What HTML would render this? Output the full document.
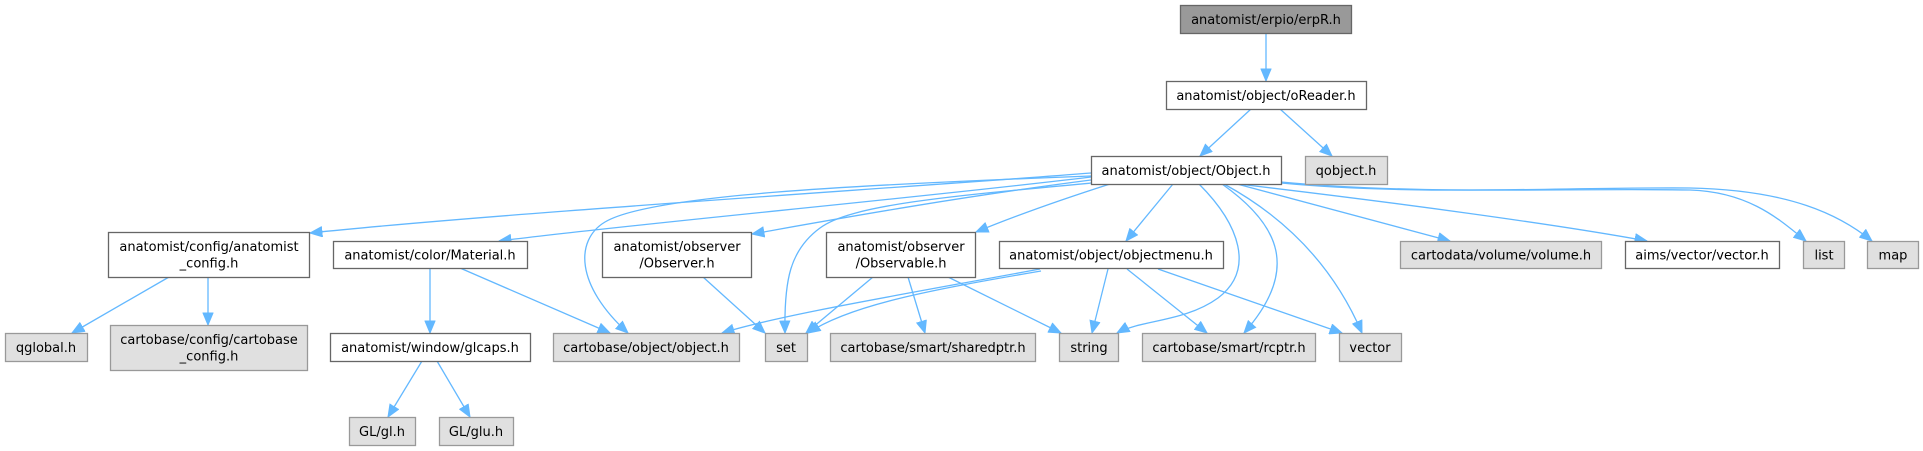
<!DOCTYPE html>
<html>
<head>
<meta charset="utf-8">
<style>
html,body{margin:0;padding:0;background:#fff;}
svg{display:block;}
text{font-family:"DejaVu Sans","Liberation Sans",sans-serif;font-size:13px;fill:#000;}
.w{fill:#fff;stroke:#666;stroke-width:1.3;}
.g{fill:#e0e0e0;stroke:#999;stroke-width:1.3;}
.r{fill:#999;stroke:#666;stroke-width:1.3;}
.e{fill:none;stroke:#63b8ff;stroke-width:1.3;marker-end:url(#a);}
</style>
</head>
<body>
<svg width="1923" height="451" viewBox="0 0 1923 451" xmlns="http://www.w3.org/2000/svg">
<defs>
<marker id="a" markerUnits="userSpaceOnUse" markerWidth="13" markerHeight="11" viewBox="0 0 13 11" refX="12.5" refY="5.5" orient="auto">
<path d="M0.5,0.5 L12.5,5.5 L0.5,10.5 z" fill="#63b8ff" stroke="#63b8ff" stroke-width="1"/>
</marker>
</defs>

<!-- edges -->
<path class="e" d="M1266,33 L1266,81"/>
<path class="e" d="M1251,109 L1200,156"/>
<path class="e" d="M1280,109 L1332,156"/>
<path class="e" d="M1091,173 C900,188 500,213 310,233"/>
<path class="e" d="M1091,177 C900,200 650,222 499,241"/>
<path class="e" d="M1091,176 C850,185 650,195 605,222 C575,240 575,285 628,333"/>
<path class="e" d="M1091,180 C950,198 820,222 752,234"/>
<path class="e" d="M1092,183 C950,196 850,205 820,228 C790,250 784,280 785,333"/>
<path class="e" d="M1110,184 C1060,200 1010,218 976,232"/>
<path class="e" d="M1173,184 L1126,241"/>
<path class="e" d="M1199,184 C1240,225 1255,270 1218,298 C1185,322 1140,320 1117,333"/>
<path class="e" d="M1222,184 C1280,225 1300,270 1244,333"/>
<path class="e" d="M1224,184 C1290,220 1335,270 1362,333"/>
<path class="e" d="M1237,184 L1450,241"/>
<path class="e" d="M1238,184 C1400,203 1560,225 1647,241"/>
<path class="e" d="M1281,182 C1420,195 1560,188 1690,190 C1750,192 1780,220 1806,241"/>
<path class="e" d="M1281,183 C1420,196 1560,187 1690,188 C1790,190 1840,215 1872,241"/>

<path class="e" d="M703,277 L765,333"/>
<path class="e" d="M873,277 L806,333"/>
<path class="e" d="M908,277 L925,333"/>
<path class="e" d="M948,277 L1061,333"/>
<path class="e" d="M1040,269 C900,295 780,315 722,333"/>
<path class="e" d="M1041,271 C930,290 850,305 808,333"/>
<path class="e" d="M1108,269 L1092,333"/>
<path class="e" d="M1127,269 L1207,333"/>
<path class="e" d="M1158,269 L1342,333"/>
<path class="e" d="M460,268 L610,333"/>
<path class="e" d="M430,268 L430,333"/>
<path class="e" d="M169,277 L72,333"/>
<path class="e" d="M208,277 L208,325"/>
<path class="e" d="M422,361 L388,417"/>
<path class="e" d="M437,361 L470,417"/>

<!-- nodes -->
<rect class="r" x="1180.5" y="5.5" width="171" height="28"/>
<text x="1266" y="24" text-anchor="middle">anatomist/erpio/erpR.h</text>

<rect class="w" x="1166.5" y="81.5" width="200" height="28"/>
<text x="1266" y="100" text-anchor="middle">anatomist/object/oReader.h</text>

<rect class="w" x="1091.5" y="156.5" width="190" height="28"/>
<text x="1186" y="175" text-anchor="middle">anatomist/object/Object.h</text>

<rect class="g" x="1305.5" y="156.5" width="82" height="28"/>
<text x="1346" y="175" text-anchor="middle">qobject.h</text>

<rect class="w" x="108.5" y="232.5" width="201" height="45"/>
<text x="209" y="251" text-anchor="middle">anatomist/config/anatomist</text>
<text x="209" y="267.5" text-anchor="middle">_config.h</text>

<rect class="w" x="333.5" y="241.5" width="194" height="27"/>
<text x="430" y="259.5" text-anchor="middle">anatomist/color/Material.h</text>

<rect class="w" x="602.5" y="232.5" width="149" height="45"/>
<text x="677" y="251" text-anchor="middle">anatomist/observer</text>
<text x="677" y="267.5" text-anchor="middle">/Observer.h</text>

<rect class="w" x="826.5" y="232.5" width="149" height="45"/>
<text x="901" y="251" text-anchor="middle">anatomist/observer</text>
<text x="901" y="267.5" text-anchor="middle">/Observable.h</text>

<rect class="w" x="999.5" y="241.5" width="224" height="27"/>
<text x="1111" y="259.5" text-anchor="middle">anatomist/object/objectmenu.h</text>

<rect class="g" x="1400.5" y="241.5" width="201" height="27"/>
<text x="1501" y="259.5" text-anchor="middle">cartodata/volume/volume.h</text>

<rect class="w" x="1625.5" y="241.5" width="154" height="27"/>
<text x="1702" y="259.5" text-anchor="middle">aims/vector/vector.h</text>

<rect class="g" x="1803.5" y="241.5" width="41" height="27"/>
<text x="1824" y="259.5" text-anchor="middle">list</text>

<rect class="g" x="1867.5" y="241.5" width="51" height="27"/>
<text x="1893" y="259.5" text-anchor="middle">map</text>

<rect class="g" x="5.5" y="333.5" width="82" height="28"/>
<text x="46" y="352" text-anchor="middle">qglobal.h</text>

<rect class="g" x="110.5" y="325.5" width="197" height="45"/>
<text x="209" y="344" text-anchor="middle">cartobase/config/cartobase</text>
<text x="209" y="360.5" text-anchor="middle">_config.h</text>

<rect class="w" x="330.5" y="333.5" width="200" height="28"/>
<text x="430" y="352" text-anchor="middle">anatomist/window/glcaps.h</text>

<rect class="g" x="553.5" y="333.5" width="186" height="28"/>
<text x="646" y="352" text-anchor="middle">cartobase/object/object.h</text>

<rect class="g" x="765.5" y="333.5" width="42" height="28"/>
<text x="786" y="352" text-anchor="middle">set</text>

<rect class="g" x="830.5" y="333.5" width="205" height="28"/>
<text x="933" y="352" text-anchor="middle">cartobase/smart/sharedptr.h</text>

<rect class="g" x="1059.5" y="333.5" width="59" height="28"/>
<text x="1089" y="352" text-anchor="middle">string</text>

<rect class="g" x="1142.5" y="333.5" width="173" height="28"/>
<text x="1229" y="352" text-anchor="middle">cartobase/smart/rcptr.h</text>

<rect class="g" x="1339.5" y="333.5" width="62" height="28"/>
<text x="1370" y="352" text-anchor="middle">vector</text>

<rect class="g" x="349.5" y="417.5" width="66" height="28"/>
<text x="382" y="436" text-anchor="middle">GL/gl.h</text>

<rect class="g" x="439.5" y="417.5" width="74" height="28"/>
<text x="476" y="436" text-anchor="middle">GL/glu.h</text>
</svg>
</body>
</html>
